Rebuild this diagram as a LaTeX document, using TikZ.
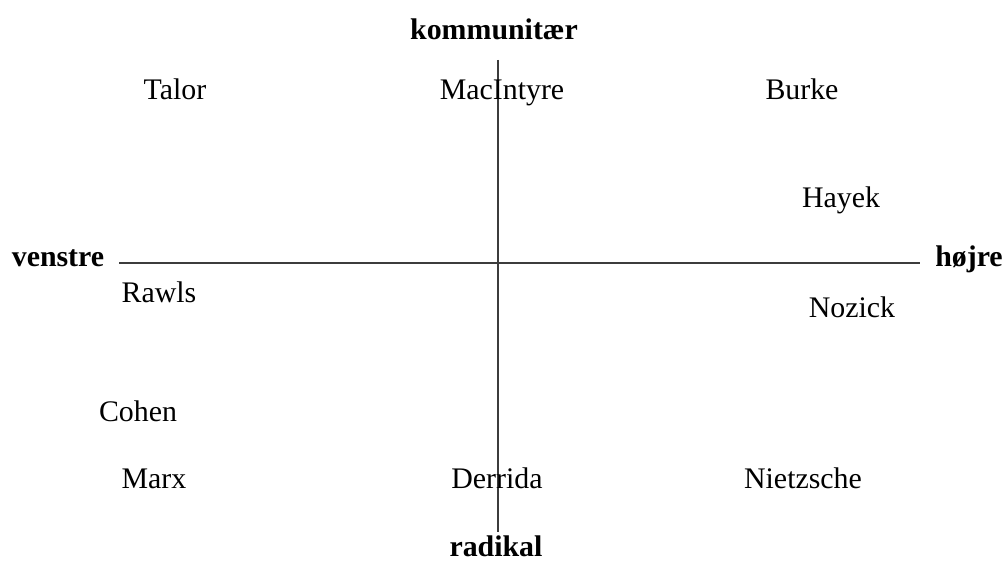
\documentclass[tikz,border=0pt]{standalone}
\usepackage{fontspec}
\setmainfont{Liberation Serif}
\usepackage{xcolor}
\usepackage{tikz}
\definecolor{axisGray}{RGB}{60,60,60}

\begin{document}
\begin{tikzpicture}[every node/.style={anchor=base, inner sep=0pt, font=\fontsize{17}{20}\selectfont},
		thinker/.style={},
		pole/.style={font=\fontsize{17}{20}\selectfont\bfseries},
		axis/.style={draw=axisGray, line width=0.8pt}]
		\useasboundingbox (0,0) rectangle (20.08,11.28);
		% the two axes
		\coordinate (top) at (9.96,10.08);
		\coordinate (bottom) at (9.96,0.64);
		\coordinate (left) at (2.38,6.02);
		\coordinate (right) at (18.4,6.02);
		\draw[axis] (top) -- (bottom);
		\draw[axis] (left) -- (right);
		% poles
		\node[pole] (kommunitaer) at (9.88,10.48) {kommunitær};
		\node[pole] (venstre) at (1.16,5.94) {venstre};
		\node[pole] (hoejre) at (19.38,5.94) {højre};
		\node[pole] (radikal) at (9.92,0.14) {radikal};
		% thinkers
		\node[thinker] (talor) at (3.5,9.28) {Talor};
		\node[thinker] (macintyre) at (10.04,9.28) {MacIntyre};
		\node[thinker] (burke) at (16.04,9.28) {Burke};
		\node[thinker] (hayek) at (16.82,7.12) {Hayek};
		\node[thinker] (rawls) at (3.18,5.22) {Rawls};
		\node[thinker] (nozick) at (17.04,4.92) {Nozick};
		\node[thinker] (cohen) at (2.76,2.84) {Cohen};
		\node[thinker] (marx) at (3.08,1.52) {Marx};
		\node[thinker] (derrida) at (9.94,1.52) {Derrida};
		\node[thinker] (nietzsche) at (16.06,1.52) {Nietzsche};
\end{tikzpicture}
\end{document}
